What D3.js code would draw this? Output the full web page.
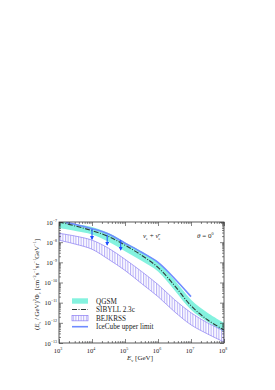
<!DOCTYPE html>
<html>
<head>
<meta charset="utf-8">
<script src="https://cdn.jsdelivr.net/npm/d3@7"></script>
<style>
  body { margin: 0; background: #fff; }
  svg text { font-family: "Liberation Serif", "DejaVu Serif", serif; fill: #222; }
</style>
</head>
<body>
<div id="chart"></div>
<script>
// Energies as log10(E / GeV), fluxes as log10 of (E/GeV)^2 Phi
const logE = [3, 3.5, 4, 4.5, 5, 5.5, 6, 6.5, 7, 7.5, 8];

const qgsmHigh = [-6.95, -7.1, -7.25, -7.55, -8.0, -8.45, -9.0, -9.88, -10.85, -11.5, -12.0];
const qgsmLow  = [-7.3, -7.45, -7.62, -7.98, -8.45, -8.92, -9.45, -10.38, -11.35, -11.95, -12.45];

const sibyll = [-7.0, -7.2, -7.43, -7.72, -8.15, -8.65, -9.25, -10.15, -11.15, -11.85, -12.35];

const bejkrssHigh = [-7.56, -7.7, -7.9, -8.3, -8.85, -9.45, -10.1, -10.85, -11.5, -12.0, -12.4];
const bejkrssLow  = [-7.9, -8.1, -8.35, -8.85, -9.4, -10.05, -10.7, -11.45, -12.1, -12.55, -12.95];

const iceLogE = [3.2, 3.5, 4, 4.5, 5, 5.5, 6, 6.5, 7];
const iceFlux = [-7.02, -7.12, -7.33, -7.6, -8.05, -8.5, -9.0, -9.8, -10.7];

// upper-limit arrows: energy, start, tip
const arrowLogE = [4.0, 4.46, 4.87];
const arrowTop  = [-7.35, -7.64, -7.89];
const arrowTip  = [-7.85, -8.14, -8.39];

const xDecades = [3, 4, 5, 6, 7, 8];
const yDecades = [-7, -8, -9, -10, -11, -12, -13];

const legendItems = ["QGSM", "SIBYLL 2.3c", "BEJKRSS", "IceCube upper limit"];

const W = 275, H = 390;
const plot = { left: 59, right: 224, top: 222, bottom: 343 };

const svg = d3.select("#chart").append("svg")
    .attr("width", W)
    .attr("height", H);

const x = d3.scaleLog().domain([1e3, 1e8]).range([plot.left, plot.right]);
const y = d3.scaleLog().domain([1e-13, 1e-7]).range([plot.bottom, plot.top]);

const defs = svg.append("defs");
defs.append("clipPath").attr("id", "clip")
  .append("rect")
    .attr("x", plot.left).attr("y", plot.top)
    .attr("width", plot.right - plot.left)
    .attr("height", plot.bottom - plot.top);

const hatch = defs.append("pattern")
    .attr("id", "hatch")
    .attr("patternUnits", "userSpaceOnUse")
    .attr("width", 2.6).attr("height", 4);
hatch.append("line")
    .attr("x1", 0.6).attr("y1", 0).attr("x2", 0.6).attr("y2", 4)
    .attr("stroke", "#8a7cf2").attr("stroke-width", 0.7);

defs.append("marker")
    .attr("id", "arrowHead")
    .attr("viewBox", "0 0 10 10")
    .attr("refX", 8).attr("refY", 5)
    .attr("markerWidth", 4).attr("markerHeight", 4)
    .attr("orient", "auto")
  .append("path")
    .attr("d", "M0,0 L10,5 L0,10 Z")
    .attr("fill", "#1f4dff");

const toPts = (es, fs) => es.map((e, i) => [10 ** e, 10 ** fs[i]]);

const band = d3.area()
    .x(d => x(d[0]))
    .y0(d => y(d[1]))
    .y1(d => y(d[2]))
    .curve(d3.curveCatmullRom);

const line = d3.line()
    .x(d => x(d[0]))
    .y(d => y(d[1]))
    .curve(d3.curveCatmullRom);

const g = svg.append("g").attr("clip-path", "url(#clip)");

// QGSM band
const qgsmData = logE.map((e, i) => [10 ** e, 10 ** qgsmLow[i], 10 ** qgsmHigh[i]]);
g.append("path")
    .attr("d", band(qgsmData))
    .attr("fill", "#84f2df");

// BEJKRSS hatched band
const bejData = logE.map((e, i) => [10 ** e, 10 ** bejkrssLow[i], 10 ** bejkrssHigh[i]]);
g.append("path")
    .attr("d", band(bejData))
    .attr("fill", "url(#hatch)")
    .attr("stroke", "#8a7cf2")
    .attr("stroke-width", 0.7);

// IceCube upper limit
g.append("path")
    .attr("d", line(toPts(iceLogE, iceFlux)))
    .attr("fill", "none")
    .attr("stroke", "#6f8bff")
    .attr("stroke-width", 1.6);

// SIBYLL 2.3c
g.append("path")
    .attr("d", line(toPts(logE, sibyll)))
    .attr("fill", "none")
    .attr("stroke", "#2f3a3a")
    .attr("stroke-width", 1.1)
    .attr("stroke-dasharray", "5,1.5,1,1.5");

// arrows
g.selectAll(".arrow")
    .data(arrowLogE.map((e, i) => [10 ** e, 10 ** arrowTop[i], 10 ** arrowTip[i]]))
    .enter()
    .append("line")
    .attr("class", "arrow")
    .attr("x1", d => x(d[0])).attr("x2", d => x(d[0]))
    .attr("y1", d => y(d[1])).attr("y2", d => y(d[2]))
    .attr("stroke", "#1f4dff")
    .attr("stroke-width", 1)
    .attr("marker-end", "url(#arrowHead)");

// frame
svg.append("rect")
    .attr("x", plot.left).attr("y", plot.top)
    .attr("width", plot.right - plot.left)
    .attr("height", plot.bottom - plot.top)
    .attr("fill", "none")
    .attr("stroke", "#333")
    .attr("stroke-width", 0.8);

// ticks (inward on all sides)
const majorX = xDecades.map(d => 10 ** d);
const minorX = [];
xDecades.slice(0, -1).forEach(d => { for (let k = 2; k <= 9; k++) minorX.push(k * 10 ** d); });
const majorY = yDecades.map(d => 10 ** d);
const minorY = [];
yDecades.slice(1).forEach(d => { for (let k = 2; k <= 9; k++) minorY.push(k * 10 ** d); });

function tickAxis(axisFn, scale, values, size, transform) {
  const a = axisFn(scale).tickValues(values).tickSize(-size).tickFormat("");
  const sel = svg.append("g").attr("transform", transform).call(a);
  sel.select(".domain").remove();
  sel.selectAll("line").attr("stroke", "#333").attr("stroke-width", 0.6);
}
tickAxis(d3.axisBottom, x, majorX, 4, `translate(0,${plot.bottom})`);
tickAxis(d3.axisBottom, x, minorX, 2, `translate(0,${plot.bottom})`);
tickAxis(d3.axisTop, x, majorX, 4, `translate(0,${plot.top})`);
tickAxis(d3.axisTop, x, minorX, 2, `translate(0,${plot.top})`);
tickAxis(d3.axisLeft, y, majorY, 4, `translate(${plot.left},0)`);
tickAxis(d3.axisLeft, y, minorY, 2, `translate(${plot.left},0)`);
tickAxis(d3.axisRight, y, majorY, 4, `translate(${plot.right},0)`);
tickAxis(d3.axisRight, y, minorY, 2, `translate(${plot.right},0)`);

// tick labels as 10^n
const xl = svg.append("g").selectAll("text")
    .data(xDecades).enter().append("text")
    .attr("x", d => x(10 ** d) - 1)
    .attr("y", plot.bottom + 10)
    .attr("text-anchor", "middle")
    .attr("font-size", 6.5);
xl.append("tspan").text("10");
xl.append("tspan").attr("dy", -3).attr("font-size", 4).text(d => d);

const yl = svg.append("g").selectAll("text")
    .data(yDecades).enter().append("text")
    .attr("x", plot.left - 2)
    .attr("y", d => y(10 ** d) + 2.5)
    .attr("text-anchor", "end")
    .attr("font-size", 6.5);
yl.append("tspan").text("10");
yl.append("tspan").attr("dy", -3).attr("font-size", 4).text(d => "\u2212" + (-d));

// axis titles
const xt = svg.append("text")
    .attr("x", 140).attr("y", plot.bottom + 17)
    .attr("text-anchor", "middle")
    .attr("font-size", 7);
xt.append("tspan").attr("font-style", "italic").text("E");
xt.append("tspan").attr("dy", 1.5).attr("font-size", 4.5).text("\u03bd");
xt.append("tspan").attr("dy", -1.5).text(" [GeV]");

const yt = svg.append("text")
    .attr("transform", `translate(39,${(plot.top + plot.bottom) / 2 + 2}) rotate(-90)`)
    .attr("text-anchor", "middle")
    .attr("font-size", 6.8);
yt.append("tspan").text("(");
yt.append("tspan").attr("font-style", "italic").text("E");
yt.append("tspan").attr("dy", 1.5).attr("font-size", 4.3).text("\u03bd");
yt.append("tspan").attr("dy", -1.5).text(" / GeV)");
yt.append("tspan").attr("dy", -2.8).attr("font-size", 4.3).text("2");
yt.append("tspan").attr("dy", 2.8).text("\u03a6");
yt.append("tspan").attr("dy", 1.5).attr("font-size", 4.3).text("\u03bd");
yt.append("tspan").attr("dy", -1.5).text("  [cm");
yt.append("tspan").attr("dy", -2.8).attr("font-size", 4.3).text("\u22122");
yt.append("tspan").attr("dy", 2.8).text("s");
yt.append("tspan").attr("dy", -2.8).attr("font-size", 4.3).text("\u22121");
yt.append("tspan").attr("dy", 2.8).text("sr");
yt.append("tspan").attr("dy", -2.8).attr("font-size", 4.3).text("\u22121");
yt.append("tspan").attr("dy", 2.8).text("GeV");
yt.append("tspan").attr("dy", -2.8).attr("font-size", 4.3).text("\u22121");
yt.append("tspan").attr("dy", 2.8).text("]");

// annotations
const nu = svg.append("text")
    .attr("x", 143).attr("y", 238)
    .attr("font-size", 7);
nu.append("tspan").attr("font-style", "italic").text("\u03bd");
nu.append("tspan").attr("dy", 1.5).attr("font-size", 4.2).text("e");
nu.append("tspan").attr("dy", -1.5).text(" + ");
nu.append("tspan").attr("font-style", "italic").text("\u03bd\u0304");
nu.append("tspan").attr("dy", 1.5).attr("font-size", 4.2).text("e");

const th = svg.append("text")
    .attr("x", 197).attr("y", 238)
    .attr("font-size", 7);
th.append("tspan").attr("font-style", "italic").text("\u03b8");
th.append("tspan").text(" = 0");
th.append("tspan").attr("dy", -3).attr("font-size", 4.2).text("0");

// legend
const lg = svg.append("g");
const rowY = d3.scalePoint().domain(legendItems).range([301, 326.7]);
const swX = 72, swW = 16;

lg.append("rect")
    .attr("x", swX).attr("y", rowY("QGSM") - 2.7)
    .attr("width", swW).attr("height", 5.4)
    .attr("fill", "#84f2df");
lg.append("line")
    .attr("x1", swX).attr("x2", swX + swW)
    .attr("y1", rowY("SIBYLL 2.3c")).attr("y2", rowY("SIBYLL 2.3c"))
    .attr("stroke", "#2f3a3a").attr("stroke-width", 1.1)
    .attr("stroke-dasharray", "5,1.5,1,1.5");
lg.append("rect")
    .attr("x", swX).attr("y", rowY("BEJKRSS") - 2.7)
    .attr("width", swW).attr("height", 5.4)
    .attr("fill", "url(#hatch)")
    .attr("stroke", "#8a7cf2").attr("stroke-width", 0.7);
lg.append("line")
    .attr("x1", swX).attr("x2", swX + swW)
    .attr("y1", rowY("IceCube upper limit")).attr("y2", rowY("IceCube upper limit"))
    .attr("stroke", "#6f8bff").attr("stroke-width", 1.6);

lg.selectAll(".leg-text")
    .data(legendItems).enter().append("text")
    .attr("class", "leg-text")
    .attr("x", 96)
    .attr("y", d => rowY(d) + 2.5)
    .attr("font-size", 7.2)
    .text(d => d);
</script>
</body>
</html>
